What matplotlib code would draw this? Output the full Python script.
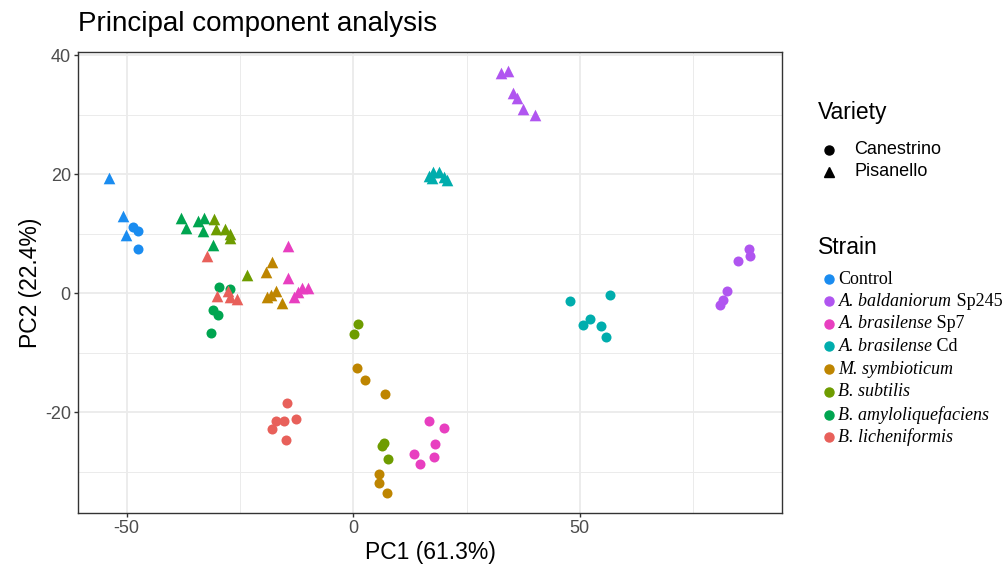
import matplotlib
matplotlib.use("Agg")
import matplotlib.pyplot as plt
from matplotlib.lines import Line2D
from matplotlib.ticker import MultipleLocator

plt.rcParams['font.family'] = ['Liberation Sans', 'DejaVu Sans']
plt.rcParams['axes.unicode_minus'] = False

# PCA scores (PC1, PC2), per strain and variety
control_can = [(-48.7, 11.2), (-47.6, 10.5), (-47.4, 7.4)]
control_pis = [(-53.8, 19.3), (-50.9, 12.9), (-50.2, 9.8)]
sp245_can = [(87.4, 7.4), (87.6, 6.2), (85.0, 5.4), (82.5, 0.4), (81.6, -1.2), (80.9, -1.9)]
sp245_pis = [(32.5, 37.1), (34.2, 37.4), (35.3, 33.7), (36.2, 32.9), (37.4, 30.9), (40.1, 30.0)]
sp7_can = [(16.7, -21.5), (20.0, -22.6), (18.0, -25.3), (13.5, -27.1), (14.7, -28.7), (17.8, -27.6)]
sp7_pis = [(-14.5, 8.0), (-14.5, 2.5), (-13.1, -0.6), (-11.4, 0.8), (-9.9, 0.9), (-12.2, 0.2)]
cd_can = [(47.8, -1.3), (56.6, -0.3), (52.2, -4.3), (50.6, -5.3), (54.6, -5.5), (55.8, -7.4)]
cd_pis = [(16.8, 19.7), (17.6, 20.3), (19.0, 20.3), (17.3, 19.3), (20.6, 19.0), (20.0, 19.6)]
msym_can = [(5.7, -30.4), (5.7, -31.9), (7.4, -33.6), (0.75, -12.6), (2.7, -14.6), (6.9, -16.9)]
msym_pis = [(-18.0, 5.3), (-19.3, 3.6), (-19.1, -0.7), (-18.2, -0.3), (-17.1, 0.3), (-15.7, -1.6)]
bsub_can = [(6.4, -25.7), (6.8, -25.2), (7.7, -27.8), (1.1, -5.2), (0.2, -6.8)]
bsub_pis = [(-30.7, 12.5), (-30.3, 10.8), (-28.3, 10.8), (-27.2, 10.0), (-27.2, 9.2), (-23.5, 3.0)]
bamy_can = [(-29.6, 1.0), (-27.2, 0.7), (-30.9, -2.9), (-29.9, -3.6), (-31.4, -6.7)]
bamy_pis = [(-38.0, 12.7), (-36.9, 11.0), (-34.3, 12.2), (-32.9, 12.7), (-33.2, 10.4), (-31.0, 8.1)]
blic_can = [(-14.7, -18.5), (-17.1, -21.4), (-15.2, -21.4), (-12.7, -21.1), (-17.9, -22.9), (-14.8, -24.7)]
blic_pis = [(-32.2, 6.3), (-30.1, -0.4), (-27.6, 0.4), (-27.2, -0.6), (-25.7, -1.0)]

# strain names: italic part, upright suffix
strain_italic = ["", "A. baldaniorum", "A. brasilense", "A. brasilense",
                 "M. symbioticum", "B. subtilis", "B. amyloliquefaciens", "B. licheniformis"]
strain_suffix = ["Control", " Sp245", " Sp7", " Cd", "", "", "", ""]
strain_colors = ['#1A8CF0', '#B055F0', '#E83FC0', '#00ADAD',
                 '#BE8500', '#6E9C00', '#00A550', '#E8605A']
canestrino = [control_can, sp245_can, sp7_can, cd_can, msym_can, bsub_can, bamy_can, blic_can]
pisanello = [control_pis, sp245_pis, sp7_pis, cd_pis, msym_pis, bsub_pis, bamy_pis, blic_pis]
variety_labels = ["Canestrino", "Pisanello"]

W, H = 1002, 569
fig = plt.figure(figsize=(W / 100, H / 100), dpi=100)
ax = fig.add_axes([77.7 / W, 1 - 513.3 / H, (782 - 77.7) / W, (513.3 - 52) / H])


def fx(px):
    return px / W


def fy(py):
    return 1 - py / H


for pts, col in zip(canestrino, strain_colors):
    ax.scatter([p[0] for p in pts], [p[1] for p in pts], s=52, marker='o',
               color=col, linewidths=0, zorder=3)
for pts, col in zip(pisanello, strain_colors):
    ax.scatter([p[0] for p in pts], [p[1] for p in pts], s=70, marker='^',
               color=col, linewidths=0, zorder=3)

ax.set_xlim(-60.8, 94.6)
ax.set_ylim(-37.0, 40.55)
ax.xaxis.set_major_locator(MultipleLocator(50))
ax.xaxis.set_minor_locator(MultipleLocator(25))
ax.yaxis.set_major_locator(MultipleLocator(20))
ax.yaxis.set_minor_locator(MultipleLocator(10))
ax.grid(which='major', color='#EBEBEB', lw=1.3, zorder=0)
ax.grid(which='minor', color='#EBEBEB', lw=0.7, zorder=0)
ax.set_axisbelow(True)
ax.tick_params(which='major', length=3, width=1, color='#333333',
               labelcolor='#4D4D4D', labelsize=13, pad=2)
ax.tick_params(which='minor', length=0)
for sp in ax.spines.values():
    sp.set_color('#333333')
    sp.set_linewidth(1.0)

fig.text(fx(430), fy(553), "PC1 (61.3%)", fontsize=16.5, ha='center', va='center')
fig.text(fx(30), fy(283), "PC2 (22.4%)", fontsize=16.5, ha='center', va='center',
         rotation=90)
fig.text(fx(78), fy(24), "Principal component analysis", fontsize=20,
         ha='left', va='center')

# Variety legend
fig.text(fx(818), fy(113), "Variety", fontsize=16.5, ha='left', va='center')
for i, (lab, mk) in enumerate(zip(variety_labels, ['o', '^'])):
    y = [150, 172][i]
    fig.add_artist(Line2D([fx(829)], [fy(y)], marker=mk, color='black',
                          markersize=6.5 if mk == 'o' else 7.5, linestyle='none',
                          transform=fig.transFigure))
    fig.text(fx(854), fy(y), lab, fontsize=13, ha='left', va='center')

# Strain legend
fig.text(fx(818), fy(247), "Strain", fontsize=16.5, ha='left', va='center')
strain_y = [278.5, 301, 323.5, 346, 369, 391.5, 414.5, 437]
for ital, suf, col, y in zip(strain_italic, strain_suffix, strain_colors, strain_y):
    fig.add_artist(Line2D([fx(828.5)], [fy(y)], marker='o', color=col,
                          markersize=6.5, linestyle='none',
                          transform=fig.transFigure))
    base = fy(y + 5)
    t1 = fig.text(fx(838.5), base, ital, fontsize=13, ha='left', va='baseline',
                  family='Liberation Serif', style='italic')
    if suf:
        ax.annotate(suf, xy=(1, base), xycoords=(t1, 'figure fraction'),
                    fontsize=13, ha='left', va='baseline',
                    family='Liberation Serif', annotation_clip=False)

fig.savefig("out.png", dpi=100)
